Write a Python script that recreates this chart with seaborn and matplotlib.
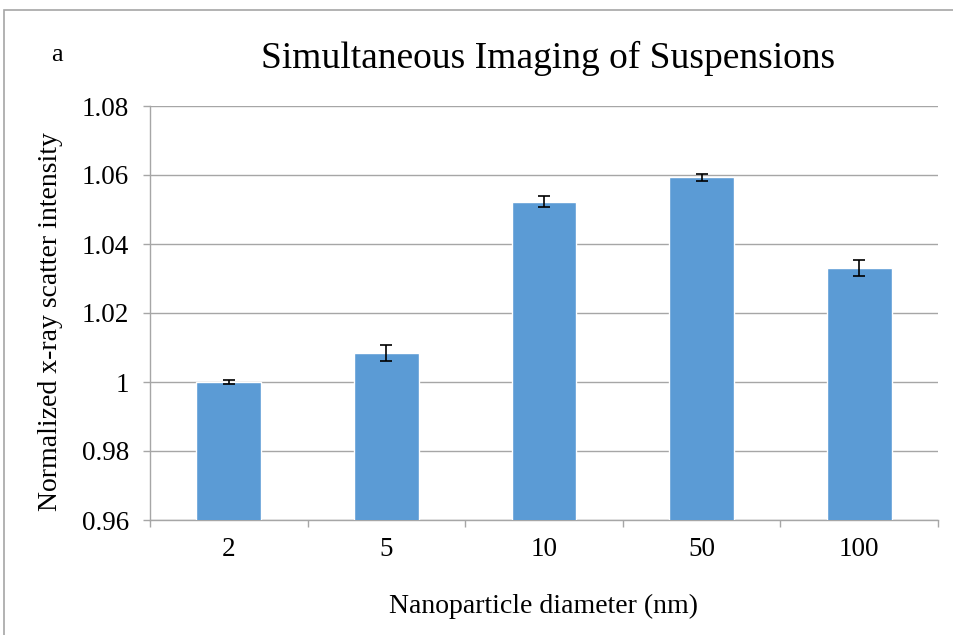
import matplotlib
matplotlib.use("Agg")
import matplotlib.pyplot as plt
import seaborn as sns
import pandas as pd
from matplotlib.patches import Rectangle
from matplotlib.ticker import MultipleLocator, FixedLocator

diameters = ["2", "5", "10", "50", "100"]
intensity = [1.0000, 1.0084, 1.0523, 1.0593, 1.0330]
errors = [0.0006, 0.0023, 0.0015, 0.0010, 0.0023]

sns.set_theme(style="white")
plt.rcParams["font.family"] = ["Liberation Serif", "DejaVu Serif"]

df = pd.DataFrame({"d": diameters, "v": intensity})

fig = plt.figure(figsize=(9.54, 6.35), dpi=100)
ax = fig.add_axes([150/954, 1 - 520/635, (938 - 150)/954, (520 - 106)/635])

sns.barplot(data=df, x="d", y="v", ax=ax, color="#5B9BD5", saturation=1,
            width=0.41, zorder=3)
xs = range(len(diameters))
ax.errorbar(list(xs), intensity, yerr=errors, fmt="none", ecolor="black",
            elinewidth=1.2, capsize=4.5, capthick=1.2, zorder=4)

ax.set_ylim(0.96, 1.08)
ax.set_xlim(-0.5, len(diameters) - 0.5)
ax.yaxis.set_major_locator(MultipleLocator(0.02))
ax.set_yticklabels([f"{t:g}" for t in ax.get_yticks()])
ax.grid(axis="y", color="#A6A6A6", linewidth=1, zorder=0)
ax.set_axisbelow(True)

for s in ["top", "right"]:
    ax.spines[s].set_visible(False)
for s in ["left", "bottom"]:
    ax.spines[s].set_color("#A6A6A6")
    ax.spines[s].set_linewidth(1)

ax.tick_params(axis="y", which="major", length=5, color="#A6A6A6", width=1,
               left=True, labelsize=19.5, pad=10, labelcolor="black")
ax.tick_params(axis="x", which="major", length=0, labelsize=19.5, pad=12,
               labelcolor="black")
ax.xaxis.set_minor_locator(FixedLocator([i - 0.5 for i in range(len(diameters) + 1)]))
ax.tick_params(axis="x", which="minor", length=5, color="#A6A6A6", width=1,
               bottom=True)

ax.set_xlabel("Nanoparticle diameter (nm)", fontsize=20, labelpad=23, color="black")
ax.set_ylabel("Normalized x-ray scatter intensity", fontsize=20, color="black")
ax.yaxis.set_label_coords(-87/788, 0.48)

fig.text(548/954, 1 - 58/635, "Simultaneous Imaging of Suspensions",
         fontsize=27, ha="center", va="center", color="black")
fig.text(57/954, 1 - 55/635, "a", fontsize=19, ha="center", va="center",
         color="black")

fig.patches.append(Rectangle((4/954, -0.1), 1.2, 1 - 10/635 + 0.1,
                             transform=fig.transFigure, fill=False,
                             edgecolor="#A6A6A6", linewidth=1.2))

fig.savefig("out.png", dpi=100, facecolor="white")
